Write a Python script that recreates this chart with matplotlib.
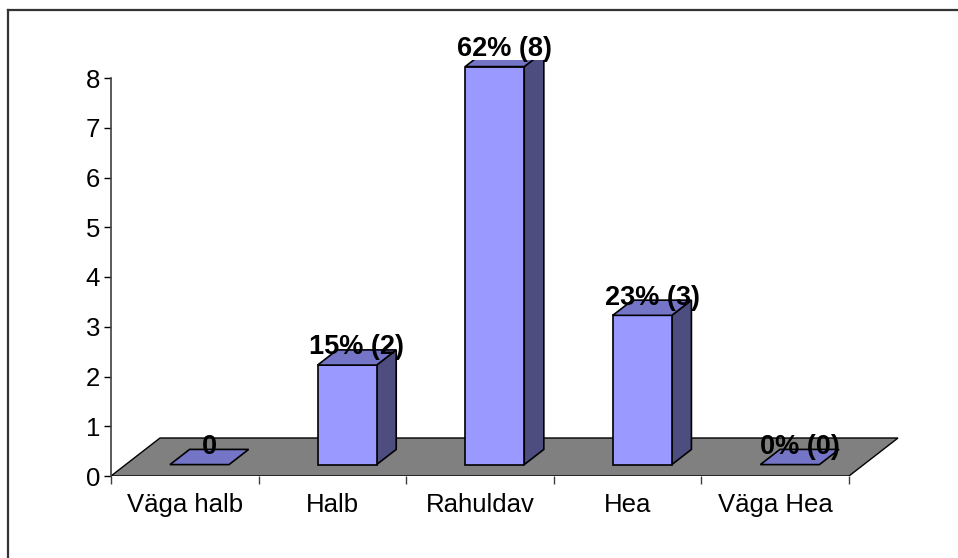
import matplotlib
matplotlib.use("Agg")
import matplotlib.pyplot as plt
from matplotlib.patches import Polygon, Rectangle
from matplotlib.lines import Line2D

categories = ["Väga halb", "Halb", "Rahuldav", "Hea", "Väga Hea"]
counts = [0, 2, 8, 3, 0]
labels = ["0", "15% (2)", "62% (8)", "23% (3)", "0% (0)"]

FRONT = "#9999FF"
TOP = "#7575C8"
SIDE = "#4D4D80"
FLOOR = "#808080"

plt.rcParams["font.family"] = ["Liberation Sans", "DejaVu Sans"]

W, H = 958, 558
fig = plt.figure(figsize=(W / 100, H / 100), dpi=100)

# axes placed in pixel terms: x from 111 to 900, y=0 at 476, top at 60
ax = fig.add_axes([111 / W, (H - 476) / H, 789 / W, 416 / H])
px_x = 147.6   # pixels per category
px_y = 49.75   # pixels per unit
ax.set_xlim(-0.5, -0.5 + 789 / px_x)
ax.set_ylim(0, 416 / px_y)

DX = 49 / px_x      # depth offset of floor in x data units
DY = 38 / px_y      # depth offset of floor in y data units
d0, d1 = 0.3, 0.7   # bar depth span as fraction of floor depth
bw = 0.4

n = len(categories)
floor = Polygon([(-0.5, 0), (n - 0.5, 0), (n - 0.5 + DX, DY), (-0.5 + DX, DY)],
                closed=True, facecolor=FLOOR, edgecolor="black", lw=1, zorder=1)
ax.add_patch(floor)

ddx = (d1 - d0) * DX
ddy = (d1 - d0) * DY
for i, (v, lab) in enumerate(zip(counts, labels)):
    x0 = i - bw / 2 + d0 * DX
    y0 = d0 * DY
    if v > 0:
        ax.add_patch(Polygon([(x0 + bw, y0), (x0 + bw + ddx, y0 + ddy),
                              (x0 + bw + ddx, y0 + v + ddy), (x0 + bw, y0 + v)],
                             closed=True, facecolor=SIDE, edgecolor="black", lw=1.2, zorder=2))
        ax.add_patch(Rectangle((x0, y0), bw, v, facecolor=FRONT, edgecolor="black",
                               lw=1.2, zorder=3))
    ax.add_patch(Polygon([(x0, y0 + v), (x0 + bw, y0 + v), (x0 + bw + ddx, y0 + v + ddy),
                          (x0 + ddx, y0 + v + ddy)],
                         closed=True, facecolor=TOP, edgecolor="black", lw=1.2, zorder=3))
    ax.text(i + 0.5 * DX, v + d1 * DY + 0.05, lab, ha="center", va="center",
            fontsize=19.5, fontweight="bold", color="black", zorder=5)

# axes styling
for s in ["top", "right", "bottom"]:
    ax.spines[s].set_visible(False)
ax.spines["left"].set_bounds(0, 8)
ax.spines["left"].set_color("#404040")
ax.spines["left"].set_linewidth(1.2)
ax.set_yticks(range(0, 9))
ax.tick_params(axis="y", length=5, width=1, pad=3, labelsize=18.5, color="black")

ax.set_xticks([i - 0.5 for i in range(n + 1)])
ax.set_xticklabels([])
ax.set_xticks(range(n), minor=True)
ax.set_xticklabels(categories, minor=True)
ax.tick_params(axis="x", which="major", length=6, width=1, color="#404040")
ax.tick_params(axis="x", which="minor", length=0, pad=12.5, labelsize=18.5)
ax.patch.set_alpha(0)

# outer frame (only top and left visible)
fig.add_artist(Line2D([8 / W, 1], [1 - 10 / H, 1 - 10 / H], color="#333333", lw=1.6))
fig.add_artist(Line2D([8 / W, 8 / W], [0, 1 - 10 / H], color="#333333", lw=1.6))

fig.savefig("out.png", dpi=100, facecolor="white")
